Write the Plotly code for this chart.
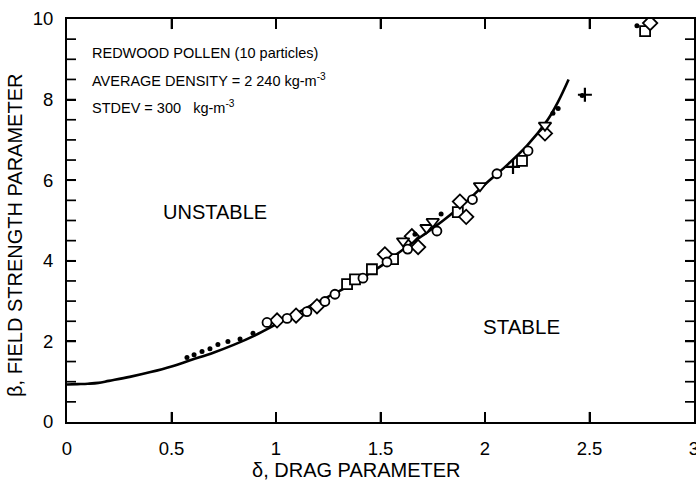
import plotly.graph_objects as go

# Theoretical stability boundary curve
curve_x = [0, 0.05, 0.1, 0.15, 0.2, 0.3, 0.4, 0.5, 0.6, 0.7, 0.8, 0.9, 1.0, 1.1, 1.2,
           1.3, 1.4, 1.5, 1.6, 1.7, 1.8, 1.9, 2.0, 2.1, 2.2, 2.3, 2.35, 2.4]
curve_y = [0.93, 0.94, 0.95, 0.97, 1.02, 1.12, 1.24, 1.38, 1.55, 1.72, 1.92, 2.15, 2.42, 2.7, 2.98,
           3.24, 3.54, 3.86, 4.25, 4.62, 5.0, 5.42, 5.9, 6.35, 6.85, 7.5, 7.95, 8.5]

# Measured particles (different symbols = different particles)
dot_x = [0.574, 0.608, 0.646, 0.684, 0.722, 0.770, 0.828, 0.890, 1.665, 1.79, 2.325, 2.35, 2.727, 2.465]
dot_y = [1.60, 1.67, 1.75, 1.82, 1.92, 2.00, 2.06, 2.20, 4.66, 5.16, 7.66, 7.78, 9.83, 8.10]

circ_x = [0.957, 1.053, 1.148, 1.234, 1.282, 1.416, 1.531, 1.63, 1.77, 1.94, 2.057, 2.206]
circ_y = [2.47, 2.57, 2.74, 2.99, 3.17, 3.57, 3.97, 4.29, 4.74, 5.52, 6.16, 6.73]

diam_x = [1.005, 1.096, 1.196, 1.521, 1.65, 1.68, 1.88, 1.91, 2.287, 2.79]
diam_y = [2.52, 2.64, 2.87, 4.16, 4.61, 4.34, 5.47, 5.09, 7.16, 9.90]

sq_x = [1.34, 1.378, 1.459, 1.56, 1.87, 2.177, 2.766]
sq_y = [3.42, 3.54, 3.79, 4.04, 5.21, 6.48, 9.70]

tri_x = [1.608, 1.72, 1.75, 1.976, 2.287]
tri_y = [4.49, 4.82, 4.97, 5.86, 7.36]

plus_x = [2.134, 2.478]
plus_y = [6.33, 8.12]

# Axis ticks
x_tick_vals = [0, 0.5, 1, 1.5, 2, 2.5, 3]
y_label_vals = [0, 2, 4, 6, 8, 10]
y_tick_vals = [0.5, 1, 1.5, 2, 2.5, 3, 3.5, 4, 4.5, 5, 5.5, 6, 6.5, 7, 7.5, 8, 8.5, 9, 9.5]

X_RANGE = [0, 3]
Y_RANGE = [0, 10]
XTICK_LEN = 0.25   # in y units (about 10 px)
YTICK_LEN = 0.043  # in x units (about 9 px)

FONT = "Liberation Sans, Arial, Helvetica, sans-serif"
fig = go.Figure()

# inward tick marks on all four sides, built from the tick value lists
tx, ty = [], []
for v in x_tick_vals[1:-1]:
    tx += [v, v, None, v, v, None]
    ty += [Y_RANGE[0], Y_RANGE[0] + XTICK_LEN, None, Y_RANGE[1], Y_RANGE[1] - XTICK_LEN, None]
for v in y_tick_vals:
    tx += [X_RANGE[0], X_RANGE[0] + YTICK_LEN, None, X_RANGE[1], X_RANGE[1] - YTICK_LEN, None]
    ty += [v, v, None, v, v, None]
fig.add_trace(go.Scatter(x=tx, y=ty, mode="lines", line=dict(color="black", width=1.7),
                         showlegend=False, hoverinfo="skip", connectgaps=False))

fig.add_trace(go.Scatter(x=curve_x, y=curve_y, mode="lines",
                         line=dict(color="black", width=2.6, shape="spline"),
                         showlegend=False, hoverinfo="skip"))

def open_marker(symbol, size):
    return dict(symbol=symbol, size=size, color="white",
                line=dict(color="black", width=1.8))

fig.add_trace(go.Scatter(x=sq_x, y=sq_y, mode="markers", marker=open_marker("square", 10), showlegend=False))
fig.add_trace(go.Scatter(x=diam_x, y=diam_y, mode="markers", marker=open_marker("diamond", 11), showlegend=False))
fig.add_trace(go.Scatter(x=tri_x, y=tri_y, mode="markers", marker=open_marker("triangle-down", 11), showlegend=False))
fig.add_trace(go.Scatter(x=circ_x, y=circ_y, mode="markers", marker=open_marker("circle", 9), showlegend=False))
fig.add_trace(go.Scatter(x=plus_x, y=plus_y, mode="markers",
                         marker=dict(symbol="cross-thin", size=10, line=dict(color="black", width=2.2)),
                         showlegend=False))
fig.add_trace(go.Scatter(x=dot_x, y=dot_y, mode="markers",
                         marker=dict(symbol="circle", size=5, color="black"), showlegend=False))

txt = dict(family=FONT, size=14.5, color="black")
NB = "\u00a0"
fig.add_annotation(x=0.11, y=9.16, text="REDWOOD POLLEN (10 particles)", showarrow=False,
                   xanchor="left", yanchor="middle", font=txt)
fig.add_annotation(x=0.11, y=8.49, text="AVERAGE DENSITY = 2" + NB + "240" + NB + "kg-m<sup>-3</sup>",
                   showarrow=False, xanchor="left", yanchor="middle", font=txt)
fig.add_annotation(x=0.11, y=7.82, text="STDEV = 300" + NB * 3 + "kg-m<sup>-3</sup>", showarrow=False,
                   xanchor="left", yanchor="middle", font=txt)
fig.add_annotation(x=0.708, y=5.21, text="UNSTABLE", showarrow=False,
                   font=dict(family=FONT, size=20, color="black"))
fig.add_annotation(x=2.177, y=2.36, text="STABLE", showarrow=False,
                   font=dict(family=FONT, size=20.5, color="black"))

# axis titles as annotations for placement
fig.add_annotation(xref="paper", yref="paper", x=0.4625, y=-0.118, text="δ, DRAG PARAMETER",
                   showarrow=False, yanchor="middle", font=dict(family=FONT, size=20, color="black"))
fig.add_annotation(xref="paper", yref="paper", x=-0.083, y=0.464, text="β, FIELD STRENGTH PARAMETER",
                   showarrow=False, textangle=-90, xanchor="center", yanchor="middle",
                   font=dict(family=FONT, size=20, color="black"))

xaxis = dict(range=X_RANGE, tickmode="array", tickvals=x_tick_vals,
             ticktext=[f"{v:g}" for v in x_tick_vals],
             ticks="inside", ticklen=10, tickwidth=1.6, tickcolor="#000000",
             showline=True, linewidth=2, linecolor="#000000", mirror="allticks",
             showgrid=False, zeroline=False, ticklabeloverflow="allow", ticklabelstandoff=9,
             tickfont=dict(family=FONT, size=18.5, color="black"))
yaxis = dict(range=Y_RANGE, tickmode="array", tickvals=y_label_vals,
             ticktext=[f"{v:g}" for v in y_label_vals],
             ticks="inside", ticklen=9, tickwidth=1.6, tickcolor="#000000",
             showline=True, linewidth=2, linecolor="#000000", mirror="allticks",
             showgrid=False, zeroline=False, ticklabeloverflow="allow", ticklabelstandoff=8,
             tickfont=dict(family=FONT, size=18.5, color="black"))

fig.update_layout(template="none", width=696, height=486,
                  margin=dict(l=67, r=2, t=19, b=64),
                  paper_bgcolor="white", plot_bgcolor="white",
                  xaxis=xaxis, yaxis=yaxis)

fig.write_html("out.html")
